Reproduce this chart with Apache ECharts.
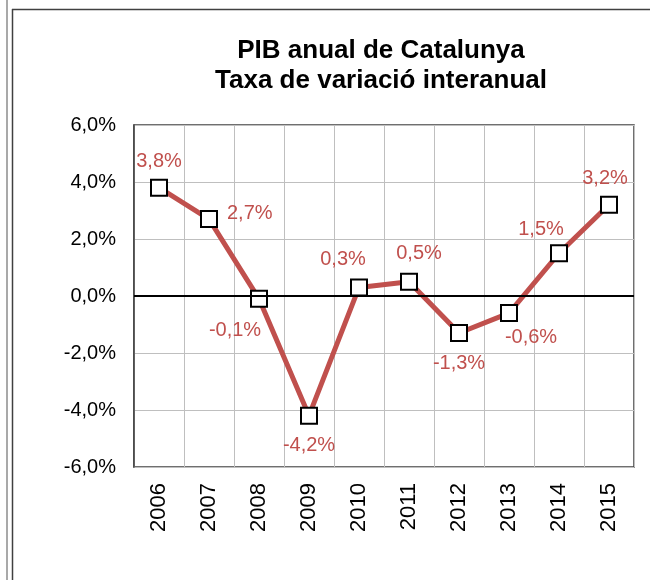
<!DOCTYPE html>
<html>
<head>
<meta charset="utf-8">
<script src="https://cdn.jsdelivr.net/npm/echarts@6/dist/echarts.min.js"></script>
<style>
  html, body { margin: 0; padding: 0; background: #fff; }
  #main { width: 650px; height: 580px; }
</style>
</head>
<body>
<div id="main"></div>
<script>
// data
var years = ['2006', '2007', '2008', '2009', '2010', '2011', '2012', '2013', '2014', '2015'];
var pib = [3.8, 2.7, -0.1, -4.2, 0.3, 0.5, -1.3, -0.6, 1.5, 3.2];

// where each value label sits
var labelPos = ['top', 'right', 'bottom', 'bottom', 'top', 'top', 'bottom', 'bottom', 'top', 'top'];
var labelOff = [[0, 0], [2, -6], [-24, 6], [0, 4], [-16, -2], [10, -2], [0, 4], [22, -2], [-18, 2], [-4, 0]];

function pct(v) {
  return v.toFixed(1).replace('.', ',') + '%';
}

var chart = echarts.init(document.getElementById('main'));

var option = {
  animation: false,
  textStyle: { fontFamily: 'Liberation Sans, Arial, sans-serif' },
  title: {
    text: 'PIB anual de Catalunya\nTaxa de variació interanual',
    left: 376,
    textAlign: 'center',
    top: 31,
    textStyle: { fontSize: 26, fontWeight: 'bold', color: '#000', lineHeight: 30 }
  },
  grid: {
    left: 134, top: 125, right: 16, bottom: 113,
    show: true, borderColor: '#404040', borderWidth: 1.5
  },
  xAxis: {
    type: 'category',
    data: years,
    boundaryGap: true,
    axisLine: { show: false, onZero: false },
    axisTick: { show: false },
    splitLine: { show: true, lineStyle: { color: '#bfbfbf', width: 1 } },
    axisLabel: { rotate: 90, margin: 16, fontSize: 22, color: '#000' }
  },
  yAxis: {
    type: 'value',
    min: -6, max: 6, interval: 2,
    axisLine: { show: true, lineStyle: { color: '#404040', width: 1.5 } },
    axisTick: { show: false },
    splitLine: { lineStyle: { color: '#bfbfbf', width: 1 } },
    axisLabel: { formatter: pct, fontSize: 20, color: '#000', margin: 18 }
  },
  series: [{
    type: 'line',
    data: pib.map(function (v, i) {
      return {
        value: v,
        label: { position: labelPos[i], offset: labelOff[i] }
      };
    }),
    lineStyle: { color: '#c0504d', width: 5 },
    symbol: 'rect',
    symbolSize: 16,
    itemStyle: { color: '#fff', borderColor: '#000', borderWidth: 2 },
    label: {
      show: true,
      distance: 7,
      fontSize: 20,
      color: '#c0504d',
      formatter: function (p) { return pct(p.value); }
    },
    markLine: {
      silent: true,
      symbol: 'none',
      label: { show: false },
      lineStyle: { color: '#000', width: 2, type: 'solid' },
      data: [{ yAxis: 0 }]
    },
    z: 3
  }],
  graphic: [
    { type: 'line', shape: { x1: 7, y1: 0, x2: 7, y2: 580 }, style: { stroke: '#8c8c8c', lineWidth: 1.5 } },
    { type: 'line', shape: { x1: 12.5, y1: 9, x2: 12.5, y2: 580 }, style: { stroke: '#404040', lineWidth: 1.5 } },
    { type: 'line', shape: { x1: 12, y1: 9.5, x2: 650, y2: 9.5 }, style: { stroke: '#404040', lineWidth: 1.5 } }
  ]
};

chart.setOption(option);
</script>
</body>
</html>
